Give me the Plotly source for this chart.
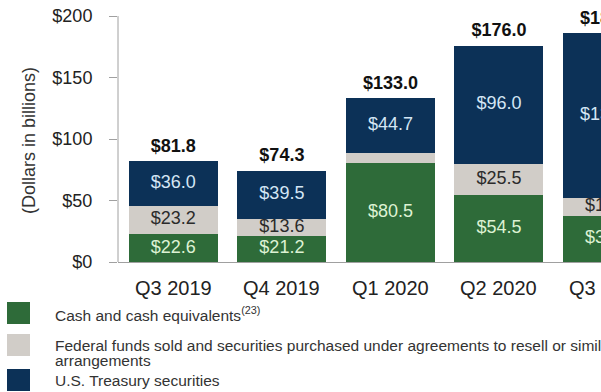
import plotly.graph_objects as go

# Quarterly liquidity composition, dollars in billions
quarters = ["Q3 2019", "Q4 2019", "Q1 2020", "Q2 2020", "Q3 2020"]
cash = [22.6, 21.2, 80.5, 54.5, 37.8]
fed_funds = [23.2, 13.6, 7.8, 25.5, 14.2]
treasury = [36.0, 39.5, 44.7, 96.0, 134.4]
totals = [81.8, 74.3, 133.0, 176.0, 186.4]
y_ticks = [0, 50, 100, 150, 200]

series_names = [
    "Cash and cash equivalents",
    "Federal funds sold and securities purchased under agreements to resell or similar arrangements",
    "U.S. Treasury securities",
]

GREEN = "#2E6B39"
GRAY = "#D1CDC8"
NAVY = "#0C3157"
FONT = "Liberation Sans, Arial, sans-serif"

W, H = 601, 392
M_L, M_R, M_T, M_B = 118, 0, 5, 130
PLOT_W = W - M_L - M_R
PLOT_H = H - M_T - M_B
X_RANGE = [-0.51, 3.94]


def px_x(x):
    return (x - M_L) / PLOT_W


def px_y(y):
    return (H - M_B - y) / PLOT_H


def cat_to_paper(i):
    return (i - X_RANGE[0]) / (X_RANGE[1] - X_RANGE[0])


fig = go.Figure()

stack = [
    (cash, GREEN, "#DDF2D3", series_names[0]),
    (fed_funds, GRAY, "#2B2B2B", series_names[1]),
    (treasury, NAVY, "#D4E6F5", series_names[2]),
]

base = [0.0] * len(quarters)
for values, color, label_color, name in stack:
    fig.add_trace(go.Bar(
        x=quarters, y=values, name=name,
        marker=dict(color=color, line=dict(width=0)),
        showlegend=False, hoverinfo="skip",
    ))
    mids = [b + v / 2 for b, v in zip(base, values)]
    labels = [f"${v:.1f}" if v >= 10 else "" for v in values]
    fig.add_trace(go.Scatter(
        x=quarters, y=mids, mode="text", text=labels,
        textposition="middle center",
        textfont=dict(family=FONT, size=18, color=label_color),
        showlegend=False, hoverinfo="skip", cliponaxis=True,
    ))
    base = [b + v for b, v in zip(base, values)]

# Totals above each stacked bar
fig.add_trace(go.Scatter(
    x=quarters, y=totals, mode="markers+text",
    text=[f"<b>${t:.1f}</b>" for t in totals],
    textposition="top center",
    marker=dict(size=6, opacity=0),
    textfont=dict(family=FONT, size=18, color="#111111"),
    showlegend=False, hoverinfo="skip", cliponaxis=True,
))

shapes = [
    # vertical axis line, ending at the top tick
    dict(type="line", xref="paper", yref="y", x0=0, x1=0, y0=0, y1=200,
         line=dict(color="#A0A0A0", width=1)),
]

annotations = [
    dict(text="(Dollars in billions)", textangle=-90, xref="paper", yref="paper",
         x=px_x(29), y=px_y(141), xanchor="center", yanchor="middle",
         showarrow=False, font=dict(family=FONT, size=18, color="#333333")),
]

# Category labels along the bottom axis (the last quarter runs past the right edge)
for i, q in enumerate(quarters):
    annotations.append(dict(text=q, xref="paper", yref="paper",
                            x=cat_to_paper(i), y=px_y(288),
                            xanchor="center", yanchor="middle", showarrow=False,
                            font=dict(family=FONT, size=20, color="#222222")))

# Legend drawn as swatches and text rows under the chart
legend_rows = [
    (GREEN, 302, [(series_names[0] + "<sup>(23)</sup>", 314)]),
    (GRAY, 334, [("Federal funds sold and securities purchased under agreements to resell or similar", 345),
                 ("arrangements", 360)]),
    (NAVY, 369, [(series_names[2], 380)]),
]
for color, top, lines in legend_rows:
    shapes.append(dict(type="rect", xref="paper", yref="paper",
                       x0=px_x(7), x1=px_x(30), y0=px_y(top), y1=px_y(top + 22),
                       fillcolor=color, line=dict(width=0)))
    for text, cy in lines:
        annotations.append(dict(text=text, xref="paper", yref="paper",
                                x=px_x(53), y=px_y(cy), xanchor="left", yanchor="middle",
                                showarrow=False,
                                font=dict(family=FONT, size=15.5, color="#333333")))

fig.update_layout(
    width=W, height=H,
    margin=dict(l=M_L, r=M_R, t=M_T, b=M_B, pad=0),
    barmode="stack", bargap=0.18,
    plot_bgcolor="white", paper_bgcolor="white",
    font=dict(family=FONT, color="#222222"),
    shapes=shapes, annotations=annotations,
    xaxis=dict(
        range=X_RANGE, showline=True, linecolor="#A0A0A0", linewidth=1,
        ticks="", showgrid=False, zeroline=False, showticklabels=False,
    ),
    yaxis=dict(
        range=[0, 209], tickvals=y_ticks, ticktext=[f"${v}" for v in y_ticks],
        showline=False, showgrid=False, zeroline=False,
        ticks="outside", ticklen=8, tickcolor="#A0A0A0", tickwidth=1,
        tickfont=dict(family=FONT, size=18, color="#222222"),
        ticklabelstandoff=13,
    ),
)

fig.write_html("out.html")
